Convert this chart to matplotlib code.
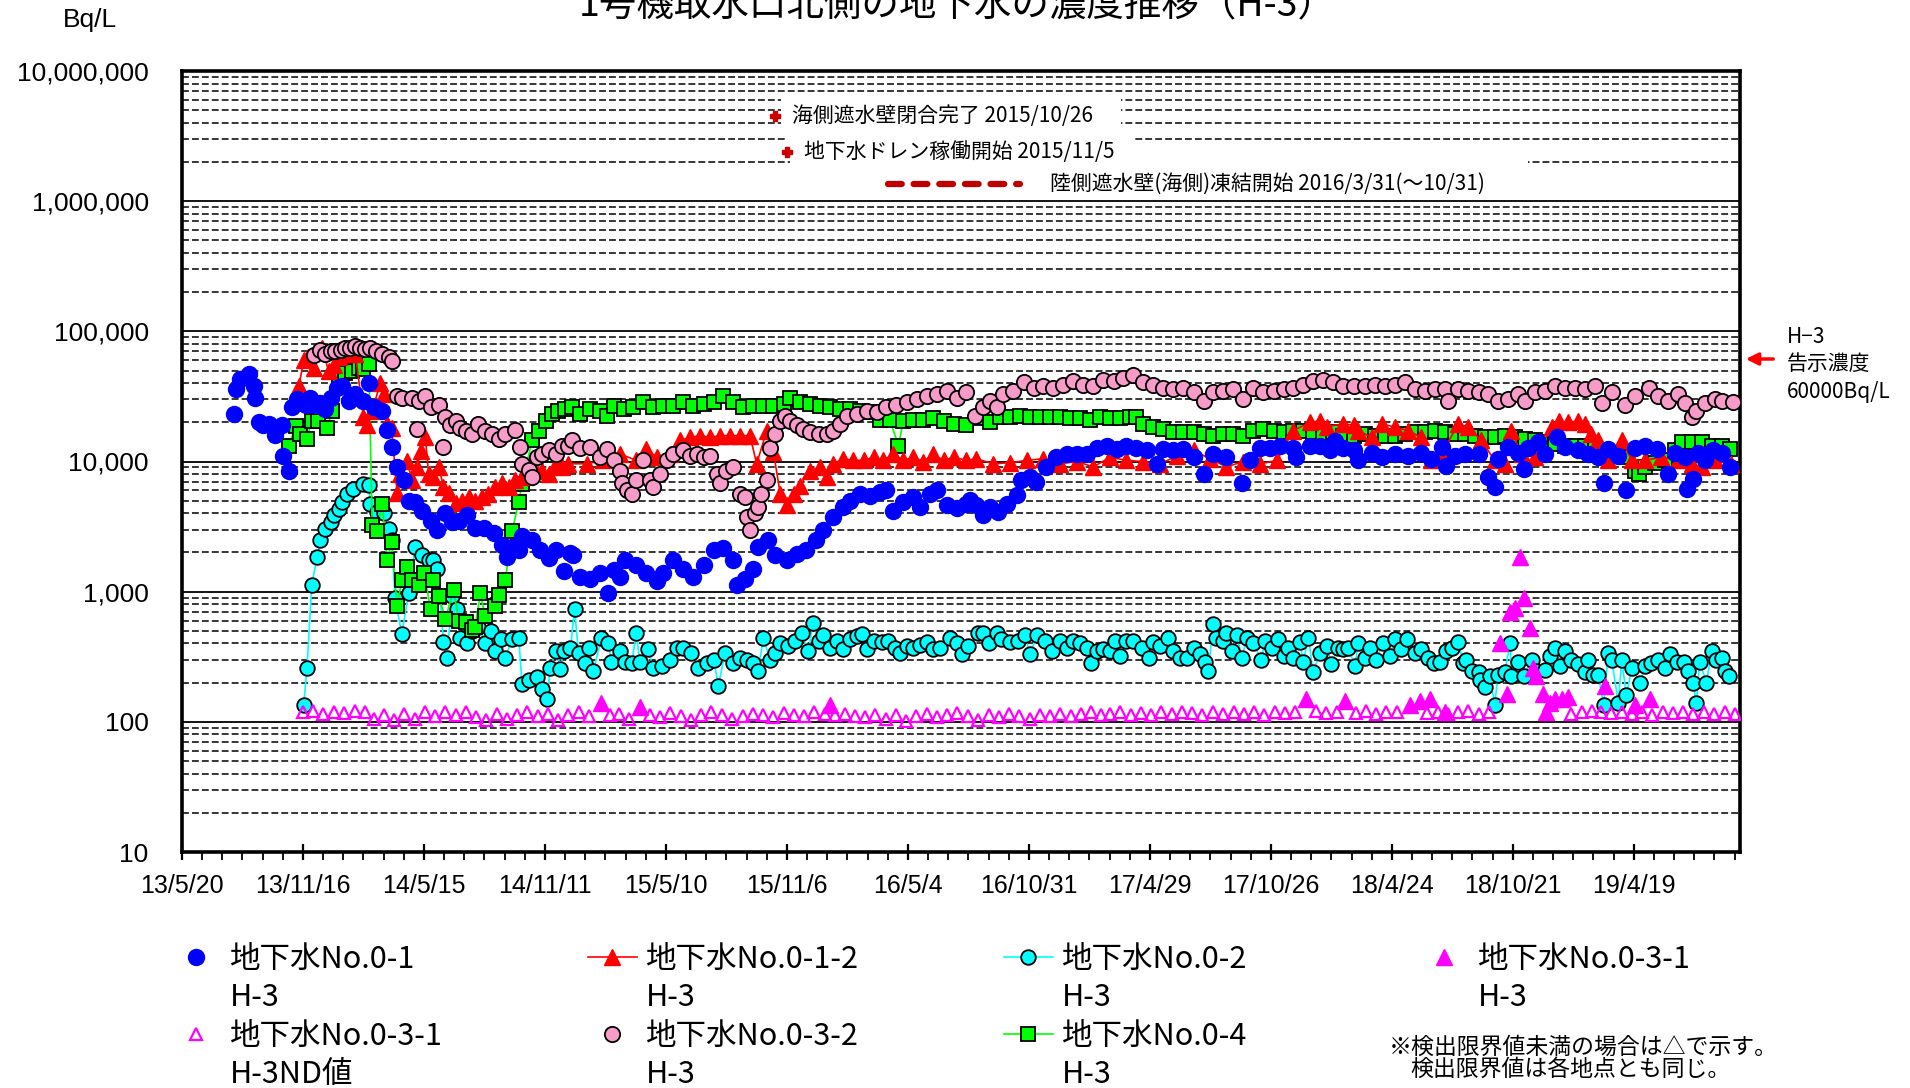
import matplotlib
matplotlib.use("Agg")
import matplotlib.pyplot as plt
import matplotlib.dates as mdates
from matplotlib.lines import Line2D
from matplotlib.patches import Rectangle
from matplotlib.ticker import FixedLocator, FuncFormatter, LogLocator, NullFormatter
from matplotlib import font_manager
import numpy as np

plt.rcParams["font.family"] = ["Noto Sans CJK JP", "DejaVu Sans"]

# ---- data (date, Bq/L) ----
no01 = [
    ("2013-08-05", 23000), ("2013-08-08", 36000), ("2013-08-15", 43000), ("2013-08-27", 47000),
    ("2013-09-04", 38000), ("2013-09-06", 31000), ("2013-09-11", 20000), ("2013-09-18", 19000),
    ("2013-09-26", 19500), ("2013-10-06", 16000), ("2013-10-16", 19000), ("2013-10-17", 11000),
    ("2013-10-26", 8500), ("2013-10-31", 26000), ("2013-11-07", 30000), ("2013-11-14", 28000),
    ("2013-11-20", 27000), ("2013-11-27", 31000), ("2013-12-04", 27000), ("2013-12-11", 28000),
    ("2013-12-19", 25500), ("2013-12-27", 31000), ("2014-01-06", 37000), ("2014-01-13", 38000),
    ("2014-01-23", 29000), ("2014-02-02", 33000), ("2014-02-14", 29000), ("2014-02-22", 40000),
    ("2014-03-01", 26000), ("2014-03-14", 24500), ("2014-03-21", 17500), ("2014-03-28", 13000),
    ("2014-04-05", 9100), ("2014-04-15", 7200), ("2014-04-22", 5000), ("2014-05-02", 4900),
    ("2014-05-12", 4200), ("2014-05-25", 3500), ("2014-06-03", 3000), ("2014-06-16", 4000),
    ("2014-06-26", 3400), ("2014-07-06", 3500), ("2014-07-18", 3900), ("2014-07-30", 3100),
    ("2014-08-12", 3100), ("2014-08-27", 2800), ("2014-09-08", 2300), ("2014-09-16", 1850),
    ("2014-09-23", 2200), ("2014-10-03", 2100), ("2014-10-08", 2700), ("2014-10-23", 2500),
    ("2014-11-04", 2100), ("2014-11-17", 1800), ("2014-11-27", 2100), ("2014-12-09", 1450),
    ("2014-12-18", 1970), ("2014-12-23", 1900), ("2015-01-02", 1300), ("2015-01-17", 1250),
    ("2015-02-01", 1400), ("2015-02-13", 970), ("2015-02-21", 1470), ("2015-03-03", 1300),
    ("2015-03-10", 1750), ("2015-03-27", 1600), ("2015-04-11", 1400), ("2015-04-26", 1200),
    ("2015-05-06", 1400), ("2015-05-21", 1750), ("2015-06-05", 1500), ("2015-06-20", 1300),
    ("2015-07-05", 1600), ("2015-07-20", 2100), ("2015-08-03", 2150), ("2015-08-18", 1750),
    ("2015-08-23", 1120), ("2015-09-05", 1250), ("2015-09-17", 1500), ("2015-09-24", 2200),
    ("2015-10-09", 2500), ("2015-10-19", 1900), ("2015-11-06", 1750), ("2015-11-21", 1950),
    ("2015-12-05", 2100), ("2015-12-20", 2500), ("2015-12-30", 3000), ("2016-01-14", 3750),
    ("2016-01-29", 4500), ("2016-02-08", 5000), ("2016-02-23", 5650), ("2016-03-09", 5400),
    ("2016-03-24", 5800), ("2016-04-02", 6000), ("2016-04-12", 4200), ("2016-04-27", 4900),
    ("2016-05-12", 5300), ("2016-05-22", 4500), ("2016-06-06", 5600), ("2016-06-16", 6000),
    ("2016-07-01", 4600), ("2016-07-16", 4400), ("2016-07-30", 4750), ("2016-08-04", 5100),
    ("2016-08-14", 4600), ("2016-08-24", 3900), ("2016-09-03", 4500), ("2016-09-15", 4100),
    ("2016-09-28", 4700), ("2016-10-13", 5500), ("2016-10-20", 7200), ("2016-11-02", 7600),
    ("2016-11-11", 7000), ("2016-11-26", 9000), ("2016-12-11", 10800), ("2016-12-26", 11400),
    ("2017-01-10", 11400), ("2017-01-25", 11400), ("2017-02-09", 12700), ("2017-02-24", 13200),
    ("2017-03-11", 12500), ("2017-03-25", 13200), ("2017-04-09", 12700), ("2017-04-24", 12200),
    ("2017-05-09", 9600), ("2017-05-19", 12500), ("2017-06-03", 12200), ("2017-06-18", 12500),
    ("2017-07-03", 10800), ("2017-07-18", 8000), ("2017-08-01", 11400), ("2017-08-21", 10800),
    ("2017-09-13", 6800), ("2017-09-25", 10200), ("2017-10-10", 12700), ("2017-10-25", 12700),
    ("2017-11-09", 13200), ("2017-11-28", 12700), ("2017-12-03", 10800), ("2017-12-23", 13200),
    ("2018-01-07", 13200), ("2018-01-22", 12200), ("2018-01-29", 14400), ("2018-02-11", 12700),
    ("2018-02-26", 12200), ("2018-03-05", 10200), ("2018-03-25", 11700), ("2018-04-09", 10800),
    ("2018-04-29", 11400), ("2018-05-18", 11100), ("2018-06-07", 11700), ("2018-06-22", 10500),
    ("2018-07-07", 13000), ("2018-07-14", 9300), ("2018-07-27", 11100), ("2018-08-11", 11400),
    ("2018-08-31", 11400), ("2018-09-14", 7600), ("2018-09-24", 6400), ("2018-09-29", 10500),
    ("2018-10-14", 13000), ("2018-10-29", 11700), ("2018-11-06", 8800), ("2018-11-13", 12700),
    ("2018-11-28", 14000), ("2018-12-08", 11400), ("2018-12-25", 15300), ("2019-01-07", 13000),
    ("2019-01-26", 12200), ("2019-02-10", 11400), ("2019-02-25", 10800), ("2019-03-05", 6800),
    ("2019-03-12", 12500), ("2019-03-27", 11100), ("2019-04-08", 6000), ("2019-04-21", 12700),
    ("2019-05-06", 13200), ("2019-05-23", 12500), ("2019-06-09", 8000), ("2019-06-19", 11700),
    ("2019-07-04", 10800), ("2019-07-07", 6200), ("2019-07-16", 7400), ("2019-07-24", 11700),
    ("2019-08-03", 10200), ("2019-08-15", 12200), ("2019-08-28", 11700), ("2019-09-09", 9000),
]

no012 = [
    ("2013-11-10", 38000), ("2013-11-17", 60000), ("2013-11-24", 63000), ("2013-12-02", 52000),
    ("2013-12-14", 75000), ("2013-12-24", 50000), ("2014-01-01", 55000), ("2014-01-08", 63000),
    ("2014-01-23", 67000), ("2014-02-02", 67000), ("2014-02-14", 22000), ("2014-02-19", 19000),
    ("2014-02-27", 24500), ("2014-03-11", 40000), ("2014-03-16", 33000), ("2014-03-21", 19500),
    ("2014-03-28", 18000), ("2014-04-05", 5700), ("2014-04-10", 8000), ("2014-04-20", 10100),
    ("2014-04-27", 7200), ("2014-05-05", 9100), ("2014-05-10", 12000), ("2014-05-17", 15300),
    ("2014-05-22", 8000), ("2014-05-29", 7600), ("2014-06-06", 9100), ("2014-06-13", 6400),
    ("2014-06-21", 5700), ("2014-07-01", 4800), ("2014-07-11", 5000), ("2014-07-21", 5300),
    ("2014-07-30", 5000), ("2014-08-09", 5300), ("2014-08-19", 5600), ("2014-08-29", 6400),
    ("2014-09-08", 6800), ("2014-09-18", 6400), ("2014-09-28", 7200), ("2014-10-08", 7600),
    ("2014-10-18", 8000), ("2014-10-28", 8500), ("2014-11-07", 8500), ("2014-11-17", 8000),
    ("2014-11-27", 9600), ("2014-12-06", 9100), ("2014-12-16", 9600), ("2015-01-12", 9600),
    ("2015-02-06", 10200), ("2015-03-03", 11400), ("2015-03-27", 10200), ("2015-04-11", 12500),
    ("2015-04-26", 10800), ("2015-05-16", 11400), ("2015-05-31", 14500), ("2015-06-15", 15300),
    ("2015-06-30", 15800), ("2015-07-15", 15300), ("2015-07-29", 15800), ("2015-08-13", 15800),
    ("2015-08-28", 15800), ("2015-09-12", 15800), ("2015-09-22", 9600), ("2015-10-07", 17300),
    ("2015-10-17", 11800), ("2015-10-27", 5650), ("2015-11-06", 4600), ("2015-11-16", 5650),
    ("2015-11-25", 6500), ("2015-12-10", 8500), ("2015-12-25", 9100), ("2016-01-04", 7600),
    ("2016-01-14", 9600), ("2016-01-29", 10500), ("2016-02-13", 10200), ("2016-02-28", 10200),
    ("2016-03-14", 10800), ("2016-03-28", 10200), ("2016-04-12", 11400), ("2016-04-27", 10200),
    ("2016-05-12", 10800), ("2016-05-27", 10000), ("2016-06-11", 11400), ("2016-06-26", 10200),
    ("2016-07-11", 10800), ("2016-07-30", 10200), ("2016-08-14", 10500), ("2016-09-08", 9600),
    ("2016-10-03", 9800), ("2016-10-28", 10200), ("2016-11-21", 10500), ("2016-12-16", 9600),
    ("2017-01-10", 10000), ("2017-02-04", 9100), ("2017-03-01", 10800), ("2017-03-25", 10200),
    ("2017-04-19", 10000), ("2017-05-14", 9600), ("2017-06-08", 11000), ("2017-07-03", 12200),
    ("2017-07-27", 10500), ("2017-08-21", 9100), ("2017-09-15", 10000), ("2017-10-10", 9600),
    ("2017-11-04", 10200), ("2017-11-28", 17200), ("2017-12-23", 20000), ("2018-01-07", 20500),
    ("2018-01-17", 18500), ("2018-02-11", 19500), ("2018-02-26", 19000), ("2018-03-05", 17300),
    ("2018-03-25", 15300), ("2018-04-09", 19500), ("2018-04-29", 18300), ("2018-05-18", 17300),
    ("2018-06-07", 15300), ("2018-06-22", 10200), ("2018-07-07", 11400), ("2018-08-01", 19500),
    ("2018-08-16", 18300), ("2018-09-04", 14500), ("2018-09-24", 10200), ("2018-10-09", 9600),
    ("2018-10-19", 17300), ("2018-11-03", 11400), ("2018-11-23", 10800), ("2018-12-18", 18300),
    ("2018-12-28", 20500), ("2019-01-11", 20000), ("2019-01-26", 20500), ("2019-02-05", 19500),
    ("2019-02-15", 16300), ("2019-02-25", 14500), ("2019-03-12", 10200), ("2019-04-01", 14500),
    ("2019-04-16", 10200), ("2019-05-06", 10200), ("2019-05-30", 10800), ("2019-06-24", 10200),
    ("2019-07-14", 9600), ("2019-07-29", 9100), ("2019-08-18", 10200), ("2019-09-11", 9600),
]

no02 = [
    ("2013-11-17", 135), ("2013-11-22", 260), ("2013-11-29", 1130), ("2013-12-07", 1850),
    ("2013-12-12", 2500), ("2013-12-19", 3050), ("2013-12-27", 3450), ("2014-01-01", 3900),
    ("2014-01-08", 4350), ("2014-01-13", 4900), ("2014-01-21", 5650), ("2014-01-30", 6200),
    ("2014-02-14", 6750), ("2014-02-22", 6600), ("2014-02-24", 4700), ("2014-03-06", 4100),
    ("2014-03-16", 4000), ("2014-03-24", 3050), ("2014-03-28", 2500), ("2014-04-02", 890),
    ("2014-04-12", 470), ("2014-04-22", 970), ("2014-05-02", 2200), ("2014-05-12", 1900),
    ("2014-05-22", 1750), ("2014-05-29", 1750), ("2014-06-03", 1500), ("2014-06-08", 920),
    ("2014-06-13", 410), ("2014-06-18", 310), ("2014-06-26", 920), ("2014-07-03", 730),
    ("2014-07-08", 440), ("2014-07-18", 400), ("2014-07-26", 500), ("2014-08-04", 540),
    ("2014-08-14", 400), ("2014-08-22", 500), ("2014-08-29", 350), ("2014-09-06", 430),
    ("2014-09-13", 310), ("2014-09-23", 430), ("2014-10-03", 440), ("2014-10-08", 195),
    ("2014-10-18", 210), ("2014-10-30", 220), ("2014-11-07", 180), ("2014-11-14", 150),
    ("2014-11-19", 260), ("2014-11-27", 350), ("2014-12-04", 255), ("2014-12-09", 350),
    ("2014-12-19", 370), ("2014-12-25", 730), ("2014-12-31", 340), ("2015-01-10", 285),
    ("2015-01-15", 370), ("2015-01-22", 245), ("2015-02-03", 440), ("2015-02-13", 400),
    ("2015-02-18", 290), ("2015-03-03", 350), ("2015-03-10", 290), ("2015-03-20", 285),
    ("2015-03-27", 480), ("2015-04-01", 290), ("2015-04-14", 360), ("2015-04-21", 260),
    ("2015-05-04", 270), ("2015-05-16", 300), ("2015-05-26", 370), ("2015-06-05", 370),
    ("2015-06-17", 340), ("2015-06-27", 260), ("2015-07-10", 285), ("2015-07-20", 300),
    ("2015-07-27", 190), ("2015-08-06", 340), ("2015-08-18", 285), ("2015-08-28", 310),
    ("2015-09-07", 300), ("2015-09-17", 285), ("2015-09-24", 245), ("2015-10-02", 440),
    ("2015-10-12", 300), ("2015-10-19", 340), ("2015-10-27", 400), ("2015-11-08", 385),
    ("2015-11-18", 420), ("2015-11-28", 480), ("2015-12-08", 350), ("2015-12-15", 575),
    ("2015-12-23", 420), ("2015-12-30", 465), ("2016-01-09", 370), ("2016-01-19", 420),
    ("2016-01-29", 360), ("2016-02-08", 430), ("2016-02-18", 455), ("2016-02-25", 470),
    ("2016-03-04", 360), ("2016-03-14", 420), ("2016-03-26", 410), ("2016-04-05", 420),
    ("2016-04-15", 370), ("2016-04-22", 340), ("2016-05-02", 380), ("2016-05-12", 370),
    ("2016-05-22", 390), ("2016-06-01", 410), ("2016-06-11", 360), ("2016-06-21", 370),
    ("2016-07-06", 440), ("2016-07-16", 400), ("2016-07-23", 330), ("2016-08-02", 380),
    ("2016-08-17", 480), ("2016-08-24", 480), ("2016-09-01", 400), ("2016-09-13", 480),
    ("2016-09-20", 430), ("2016-10-03", 410), ("2016-10-15", 420), ("2016-10-25", 465),
    ("2016-11-02", 330), ("2016-11-12", 465), ("2016-11-24", 420), ("2016-12-04", 350),
    ("2016-12-16", 420), ("2016-12-26", 370), ("2017-01-05", 420), ("2017-01-15", 400),
    ("2017-01-25", 370), ("2017-02-01", 285), ("2017-02-09", 350), ("2017-02-19", 360),
    ("2017-03-01", 350), ("2017-03-08", 420), ("2017-03-16", 320), ("2017-03-25", 420),
    ("2017-04-04", 420), ("2017-04-17", 370), ("2017-04-27", 310), ("2017-05-04", 410),
    ("2017-05-14", 385), ("2017-05-26", 440), ("2017-06-03", 350), ("2017-06-13", 310),
    ("2017-06-23", 310), ("2017-07-03", 370), ("2017-07-13", 330), ("2017-07-20", 290),
    ("2017-07-25", 245), ("2017-08-01", 560), ("2017-08-06", 440), ("2017-08-16", 420),
    ("2017-08-21", 480), ("2017-08-29", 350), ("2017-09-05", 465), ("2017-09-13", 310),
    ("2017-09-20", 440), ("2017-09-30", 400), ("2017-10-12", 300), ("2017-10-17", 420),
    ("2017-10-27", 370), ("2017-11-06", 430), ("2017-11-14", 320), ("2017-11-21", 370),
    ("2017-11-28", 310), ("2017-12-08", 410), ("2017-12-13", 290), ("2017-12-21", 440),
    ("2017-12-28", 240), ("2018-01-07", 340), ("2018-01-17", 380), ("2018-01-24", 280),
    ("2018-02-03", 370), ("2018-02-11", 360), ("2018-02-18", 370), ("2018-02-28", 270),
    ("2018-03-05", 400), ("2018-03-15", 310), ("2018-03-22", 370), ("2018-04-01", 300),
    ("2018-04-11", 400), ("2018-04-21", 320), ("2018-04-29", 430), ("2018-05-08", 360),
    ("2018-05-16", 430), ("2018-05-28", 340), ("2018-06-07", 360), ("2018-06-17", 310),
    ("2018-06-25", 285), ("2018-07-04", 290), ("2018-07-14", 350), ("2018-07-22", 370),
    ("2018-08-01", 410), ("2018-08-08", 285), ("2018-08-13", 300), ("2018-08-21", 245),
    ("2018-08-31", 240), ("2018-09-02", 210), ("2018-09-09", 185), ("2018-09-17", 225),
    ("2018-09-24", 135), ("2018-09-29", 230), ("2018-10-09", 240), ("2018-10-17", 400),
    ("2018-10-19", 225), ("2018-10-29", 290), ("2018-11-06", 225), ("2018-11-18", 300),
    ("2018-11-25", 245), ("2018-12-08", 250), ("2018-12-15", 320), ("2018-12-23", 370),
    ("2018-12-30", 270), ("2019-01-07", 350), ("2019-01-16", 300), ("2019-01-26", 280),
    ("2019-02-05", 240), ("2019-02-10", 300), ("2019-02-18", 230), ("2019-02-25", 230),
    ("2019-03-05", 135), ("2019-03-12", 340), ("2019-03-17", 300), ("2019-03-27", 140),
    ("2019-04-01", 300), ("2019-04-08", 160), ("2019-04-16", 260), ("2019-04-28", 200),
    ("2019-05-06", 270), ("2019-05-15", 285), ("2019-05-25", 300), ("2019-06-04", 260),
    ("2019-06-12", 330), ("2019-06-22", 290), ("2019-07-02", 290), ("2019-07-09", 245),
    ("2019-07-16", 200), ("2019-07-21", 140), ("2019-07-26", 290), ("2019-08-05", 200),
    ("2019-08-13", 350), ("2019-08-20", 300), ("2019-08-28", 310), ("2019-09-02", 245),
    ("2019-09-07", 225),
]

# No.0-3-1: detected values (filled) and detection-limit values (open)
no031 = [
    ("2015-02-03", 140), ("2015-04-01", 130), ("2016-01-09", 135), ("2017-12-18", 150),
    ("2018-02-13", 145), ("2018-05-21", 135), ("2018-06-05", 145), ("2018-06-20", 150),
    ("2018-07-12", 120), ("2018-10-02", 400), ("2018-10-12", 165), ("2018-10-17", 700),
    ("2018-10-24", 750), ("2018-11-01", 1860), ("2018-11-06", 890), ("2018-11-15", 530),
    ("2018-11-20", 260), ("2018-11-25", 225), ("2018-12-05", 165), ("2018-12-10", 120),
    ("2018-12-15", 140), ("2018-12-23", 150), ("2019-01-02", 150), ("2019-01-11", 155),
    ("2019-03-07", 190), ("2019-04-21", 135), ("2019-05-13", 150),
]

no031_nd = [
    ("2013-11-16", 118), ("2013-12-01", 122), ("2013-12-16", 115), ("2014-01-01", 120),
    ("2014-01-16", 116), ("2014-02-01", 122), ("2014-02-16", 118), ("2014-03-01", 105),
    ("2014-03-16", 112), ("2014-04-01", 103), ("2014-04-16", 115), ("2014-05-01", 106),
    ("2014-05-16", 118), ("2014-06-01", 110), ("2014-06-16", 120), ("2014-07-01", 113),
    ("2014-07-16", 118), ("2014-08-01", 108), ("2014-08-16", 104), ("2014-09-01", 115),
    ("2014-09-16", 105), ("2014-10-01", 112), ("2014-10-16", 118), ("2014-11-01", 110),
    ("2014-11-16", 115), ("2014-12-01", 104), ("2014-12-16", 113), ("2015-01-01", 118),
    ("2015-01-16", 110), ("2015-02-16", 112), ("2015-03-01", 115), ("2015-03-16", 105),
    ("2015-04-16", 112), ("2015-05-01", 108), ("2015-05-16", 116), ("2015-06-01", 110),
    ("2015-06-16", 104), ("2015-07-01", 113), ("2015-07-16", 118), ("2015-08-01", 112),
    ("2015-08-16", 106), ("2015-09-01", 110), ("2015-09-16", 115), ("2015-10-01", 112),
    ("2015-10-16", 108), ("2015-11-01", 116), ("2015-11-16", 112), ("2015-12-01", 110),
    ("2015-12-16", 118), ("2016-01-01", 115), ("2016-01-16", 112), ("2016-02-01", 115),
    ("2016-02-16", 110), ("2016-03-01", 108), ("2016-03-16", 113), ("2016-04-01", 106),
    ("2016-04-16", 112), ("2016-05-01", 102), ("2016-05-16", 110), ("2016-06-01", 114),
    ("2016-06-16", 108), ("2016-07-01", 112), ("2016-07-16", 116), ("2016-08-01", 110),
    ("2016-08-16", 104), ("2016-09-01", 112), ("2016-09-16", 108), ("2016-10-01", 114),
    ("2016-10-16", 110), ("2016-11-01", 106), ("2016-11-16", 113), ("2016-12-01", 110),
    ("2016-12-16", 115), ("2017-01-01", 110), ("2017-01-16", 114), ("2017-02-01", 118),
    ("2017-02-16", 112), ("2017-03-01", 115), ("2017-03-16", 120), ("2017-04-01", 113),
    ("2017-04-16", 117), ("2017-05-01", 112), ("2017-05-16", 118), ("2017-06-01", 115),
    ("2017-06-16", 120), ("2017-07-01", 116), ("2017-07-16", 112), ("2017-08-01", 118),
    ("2017-08-16", 114), ("2017-09-01", 120), ("2017-09-16", 115), ("2017-10-01", 118),
    ("2017-10-16", 113), ("2017-11-01", 120), ("2017-11-16", 116), ("2017-12-01", 118),
    ("2018-01-01", 122), ("2018-01-16", 116), ("2018-02-01", 120), ("2018-03-01", 117),
    ("2018-03-16", 122), ("2018-04-01", 115), ("2018-04-16", 120), ("2018-05-01", 118),
    ("2018-06-16", 116), ("2018-07-01", 120), ("2018-07-16", 115), ("2018-08-01", 118),
    ("2018-08-16", 122), ("2018-09-01", 115), ("2018-09-16", 120), ("2019-01-16", 115),
    ("2019-02-01", 118), ("2019-02-16", 122), ("2019-03-01", 118), ("2019-03-16", 116),
    ("2019-04-01", 120), ("2019-04-16", 115), ("2019-05-01", 118), ("2019-05-16", 112),
    ("2019-06-01", 120), ("2019-06-16", 116), ("2019-07-01", 118), ("2019-07-16", 115),
    ("2019-08-01", 120), ("2019-08-16", 114), ("2019-09-01", 118), ("2019-09-16", 115),
]

no032 = [
    ("2013-12-02", 66000), ("2013-12-12", 72000), ("2013-12-19", 67000), ("2013-12-27", 70000),
    ("2014-01-03", 70000), ("2014-01-11", 72000), ("2014-01-18", 74000), ("2014-01-25", 75000),
    ("2014-02-02", 77000), ("2014-02-09", 75000), ("2014-02-17", 73000), ("2014-02-24", 75000),
    ("2014-03-04", 71000), ("2014-03-14", 67000), ("2014-03-24", 63000), ("2014-03-28", 59000),
    ("2014-04-05", 32000), ("2014-04-12", 31000), ("2014-04-27", 31000), ("2014-05-05", 17800),
    ("2014-05-07", 29000), ("2014-05-17", 32000), ("2014-05-25", 26000), ("2014-06-06", 27000),
    ("2014-06-13", 13000), ("2014-06-16", 22000), ("2014-06-23", 19000), ("2014-07-01", 20500),
    ("2014-07-08", 18000), ("2014-07-16", 17300), ("2014-07-26", 16300), ("2014-08-04", 19500),
    ("2014-08-14", 17300), ("2014-08-24", 16300), ("2014-09-03", 15000), ("2014-09-13", 16300),
    ("2014-09-28", 17500), ("2014-10-05", 13000), ("2014-10-08", 9600), ("2014-10-18", 8600),
    ("2014-10-23", 7600), ("2014-10-30", 10800), ("2014-11-07", 11400), ("2014-11-17", 12200),
    ("2014-11-27", 11400), ("2014-12-06", 13200), ("2014-12-16", 13200), ("2014-12-21", 14500),
    ("2015-01-02", 12700), ("2015-01-17", 13000), ("2015-02-01", 10800), ("2015-02-11", 12500),
    ("2015-02-21", 10200), ("2015-03-03", 8500), ("2015-03-05", 6800), ("2015-03-13", 6000),
    ("2015-03-20", 5650), ("2015-03-27", 7200), ("2015-04-06", 10200), ("2015-04-16", 7200),
    ("2015-04-21", 6400), ("2015-05-01", 8000), ("2015-05-11", 10200), ("2015-05-21", 11400),
    ("2015-06-05", 12200), ("2015-06-15", 11100), ("2015-06-25", 11400), ("2015-07-05", 10800),
    ("2015-07-15", 11100), ("2015-07-25", 8000), ("2015-07-29", 6800), ("2015-08-08", 8500),
    ("2015-08-18", 9100), ("2015-08-28", 5650), ("2015-09-05", 5300), ("2015-09-07", 3760),
    ("2015-09-12", 3000), ("2015-09-19", 4000), ("2015-09-24", 4500), ("2015-09-29", 5650),
    ("2015-10-07", 7200), ("2015-10-12", 12700), ("2015-10-19", 16200), ("2015-10-27", 20500),
    ("2015-11-03", 22500), ("2015-11-11", 20500), ("2015-11-21", 19000), ("2015-11-30", 17800),
    ("2015-12-10", 16800), ("2015-12-23", 16300), ("2016-01-04", 16300), ("2016-01-14", 17300),
    ("2016-01-24", 19500), ("2016-02-03", 22500), ("2016-02-18", 23300), ("2016-03-04", 24500),
    ("2016-03-19", 24000), ("2016-04-02", 26000), ("2016-04-17", 27000), ("2016-05-02", 28500),
    ("2016-05-17", 30000), ("2016-06-01", 31700), ("2016-06-16", 33000), ("2016-07-01", 35000),
    ("2016-07-16", 31000), ("2016-07-30", 34000), ("2016-08-12", 22500), ("2016-08-24", 26000),
    ("2016-09-03", 29000), ("2016-09-13", 26000), ("2016-09-23", 33000), ("2016-10-08", 35000),
    ("2016-10-23", 40500), ("2016-11-07", 37000), ("2016-11-21", 38000), ("2016-12-06", 37000),
    ("2016-12-21", 39000), ("2017-01-05", 41500), ("2017-01-20", 39000), ("2017-02-04", 38000),
    ("2017-02-19", 42500), ("2017-03-06", 41500), ("2017-03-20", 44000), ("2017-04-04", 46500),
    ("2017-04-19", 40500), ("2017-05-04", 39000), ("2017-05-19", 37000), ("2017-06-03", 36000),
    ("2017-06-18", 37000), ("2017-07-03", 34000), ("2017-07-18", 29000), ("2017-08-01", 34000),
    ("2017-08-16", 35000), ("2017-08-31", 36000), ("2017-09-15", 30000), ("2017-09-30", 37000),
    ("2017-10-15", 34000), ("2017-10-30", 35000), ("2017-11-14", 36000), ("2017-11-28", 37000),
    ("2017-12-13", 39000), ("2017-12-28", 41500), ("2018-01-12", 42500), ("2018-01-27", 40500),
    ("2018-02-11", 38000), ("2018-02-26", 38000), ("2018-03-15", 38000), ("2018-03-30", 39000),
    ("2018-04-14", 38000), ("2018-04-29", 39000), ("2018-05-13", 40500), ("2018-05-28", 36000),
    ("2018-06-12", 35000), ("2018-06-27", 36000), ("2018-07-12", 36000), ("2018-07-17", 29000),
    ("2018-08-01", 36000), ("2018-08-16", 35000), ("2018-08-31", 34000), ("2018-09-14", 33000),
    ("2018-09-29", 29000), ("2018-10-14", 30000), ("2018-10-29", 33000), ("2018-11-08", 29000),
    ("2018-11-23", 34000), ("2018-12-08", 35000), ("2018-12-23", 38000), ("2019-01-07", 37000),
    ("2019-01-21", 37000), ("2019-02-05", 36000), ("2019-02-20", 38000), ("2019-03-02", 28000),
    ("2019-03-17", 34000), ("2019-04-06", 27000), ("2019-04-21", 31700), ("2019-05-11", 37000),
    ("2019-05-25", 31700), ("2019-06-09", 29000), ("2019-06-24", 33000), ("2019-07-04", 28000),
    ("2019-07-14", 22000), ("2019-07-21", 24500), ("2019-08-03", 28000), ("2019-08-18", 30000),
    ("2019-08-28", 29000), ("2019-09-14", 28500),
]

no04 = [
    ("2013-10-26", 13200), ("2013-11-05", 18800), ("2013-11-12", 16200), ("2013-11-22", 15000),
    ("2013-11-29", 20500), ("2013-12-09", 20500), ("2013-12-22", 18000), ("2013-12-29", 24500),
    ("2014-01-08", 46500), ("2014-01-18", 48000), ("2014-01-28", 50000), ("2014-02-07", 52500),
    ("2014-02-14", 51000), ("2014-02-22", 56000), ("2014-02-27", 3250), ("2014-03-06", 2900),
    ("2014-03-14", 4750), ("2014-03-21", 1750), ("2014-03-28", 2400), ("2014-04-05", 770),
    ("2014-04-12", 1230), ("2014-04-20", 1550), ("2014-04-27", 1230), ("2014-05-07", 1130),
    ("2014-05-15", 1400), ("2014-05-25", 730), ("2014-05-29", 1230), ("2014-06-06", 920),
    ("2014-06-16", 620), ("2014-06-28", 1030), ("2014-07-06", 600), ("2014-07-16", 580),
    ("2014-07-26", 510), ("2014-07-30", 540), ("2014-08-07", 970), ("2014-08-14", 650),
    ("2014-08-29", 770), ("2014-09-03", 950), ("2014-09-13", 1230), ("2014-09-23", 2900),
    ("2014-10-03", 4900), ("2014-10-08", 6750), ("2014-10-23", 14500), ("2014-11-02", 17300),
    ("2014-11-12", 20500), ("2014-11-22", 23000), ("2014-12-01", 24500), ("2014-12-11", 25400),
    ("2014-12-21", 26000), ("2015-01-02", 23000), ("2015-01-17", 25400), ("2015-02-01", 24500),
    ("2015-02-11", 22500), ("2015-02-21", 26800), ("2015-03-08", 25400), ("2015-03-22", 26000),
    ("2015-04-06", 28500), ("2015-04-21", 26000), ("2015-05-06", 26800), ("2015-05-21", 26800),
    ("2015-06-05", 28500), ("2015-06-20", 26800), ("2015-07-05", 27500), ("2015-07-20", 28500),
    ("2015-08-03", 31700), ("2015-08-18", 28500), ("2015-09-02", 26000), ("2015-09-17", 26800),
    ("2015-10-02", 26800), ("2015-10-17", 26800), ("2015-11-01", 27500), ("2015-11-11", 31000),
    ("2015-11-25", 28500), ("2015-12-10", 27500), ("2015-12-25", 26800), ("2016-01-09", 26000),
    ("2016-01-24", 25400), ("2016-02-08", 25400), ("2016-02-23", 24500), ("2016-03-09", 24000),
    ("2016-03-24", 21000), ("2016-04-07", 21000), ("2016-04-20", 13200), ("2016-04-27", 20500),
    ("2016-05-12", 21000), ("2016-05-27", 21000), ("2016-06-11", 21500), ("2016-06-26", 20500),
    ("2016-07-11", 19500), ("2016-07-30", 19000), ("2016-08-19", 21500), ("2016-09-03", 20000),
    ("2016-09-18", 22000), ("2016-10-03", 22000), ("2016-10-18", 22500), ("2016-11-02", 22000),
    ("2016-11-17", 22000), ("2016-12-01", 22000), ("2016-12-16", 22000), ("2016-12-31", 21500),
    ("2017-01-15", 21500), ("2017-01-30", 21000), ("2017-02-14", 22000), ("2017-03-01", 21500),
    ("2017-03-16", 21500), ("2017-03-30", 22000), ("2017-04-09", 22000), ("2017-04-19", 19500),
    ("2017-05-04", 18500), ("2017-05-19", 17800), ("2017-06-03", 16800), ("2017-06-18", 16800),
    ("2017-07-03", 16800), ("2017-07-18", 16300), ("2017-08-01", 15800), ("2017-08-16", 16300),
    ("2017-08-31", 16300), ("2017-09-15", 15800), ("2017-09-30", 17300), ("2017-10-15", 17800),
    ("2017-10-30", 17300), ("2017-11-14", 16800), ("2017-11-28", 17300), ("2017-12-13", 17300),
    ("2017-12-28", 16800), ("2018-01-12", 16300), ("2018-01-27", 16800), ("2018-02-11", 15800),
    ("2018-02-26", 15800), ("2018-03-15", 16300), ("2018-03-30", 15800), ("2018-04-14", 15800),
    ("2018-04-29", 15800), ("2018-05-13", 16300), ("2018-05-28", 16800), ("2018-06-12", 16800),
    ("2018-06-27", 17300), ("2018-07-12", 16800), ("2018-07-27", 16300), ("2018-08-11", 16300),
    ("2018-08-26", 15800), ("2018-09-09", 15300), ("2018-09-24", 15300), ("2018-10-09", 15800),
    ("2018-10-24", 15300), ("2018-11-08", 14900), ("2018-11-23", 14500), ("2018-12-08", 14000),
    ("2018-12-23", 13600), ("2019-01-07", 13200), ("2019-01-21", 13200), ("2019-02-05", 13200),
    ("2019-02-20", 12500), ("2019-03-07", 12200), ("2019-03-22", 11400), ("2019-04-06", 10800),
    ("2019-04-21", 8500), ("2019-04-26", 8000), ("2019-05-06", 9100), ("2019-05-20", 9800),
    ("2019-06-04", 10200), ("2019-06-19", 12200), ("2019-06-29", 14000), ("2019-07-14", 14000),
    ("2019-07-29", 14000), ("2019-08-13", 13200), ("2019-08-28", 13200), ("2019-09-09", 12500),
]

tick_start = "2013-05-20"
x_end = "2019-09-24"
events = ["海側遮水壁閉合完了 2015/10/26",
          "地下水ドレン稼働開始 2015/11/5",
          "陸側遮水壁(海側)凍結開始 2016/3/31(～10/31)"]


def unpack(rows):
    d = np.array([np.datetime64(r[0]) for r in rows])
    v = np.array([r[1] for r in rows], dtype=float)
    return d, v


# ---- figure geometry (pixels of the 1910x1088 reference) ----
W, H = 1910, 1088
L, R, T, B = 182, 1740, 71, 852
fig = plt.figure(figsize=(W / 100, H / 100), dpi=100)
fig.patch.set_facecolor("white")
ax = fig.add_axes([L / W, 1 - B / H, (R - L) / W, (B - T) / H])


def afx(px):
    return (px - L) / (R - L)


def afy(py):
    return (B - py) / (B - T)


names = {f.name for f in font_manager.fontManager.ttflist}
xfont = "Liberation Sans Narrow" if "Liberation Sans Narrow" in names else "Liberation Sans"
xsize = 20 if xfont == "Liberation Sans Narrow" else 18

# ---- series ----
d, v = unpack(no02)
h_02, = ax.plot(d, v, color="#00FFFF", lw=1.2, marker="o", ms=10.5, mfc="#00FFFF",
                mec="black", mew=1.3, zorder=3)
d, v = unpack(no04)
h_04, = ax.plot(d, v, color="#00FF00", lw=1.2, marker="s", ms=10, mfc="#00FF00",
                mec="black", mew=1.3, zorder=4)
d, v = unpack(no012)
h_012, = ax.plot(d, v, color="#FF0000", lw=1.2, marker="^", ms=11.5, mfc="#FF0000",
                 mec="#FF0000", zorder=5)
d, v = unpack(no032)
h_032, = ax.plot(d, v, ls="none", marker="o", ms=11, mfc="#F79BC8", mec="black",
                 mew=1.3, zorder=6)
d, v = unpack(no031_nd)
h_nd, = ax.plot(d, v, ls="none", marker="^", ms=8.5, mfc="none", mec="#FF00FF",
                mew=1.6, zorder=6.5)
d, v = unpack(no031)
h_031, = ax.plot(d, v, ls="none", marker="^", ms=12, mfc="#FF00FF", mec="#FF00FF",
                 zorder=7)
d, v = unpack(no01)
h_01, = ax.plot(d, v, ls="none", marker="o", ms=11.5, mfc="#0000FF", mec="#0000FF",
                zorder=8)

# ---- axes ----
ax.set_yscale("log")
ax.set_ylim(10, 1e7)
ax.set_xlim(np.datetime64(tick_start), np.datetime64(x_end))

ax.yaxis.set_major_locator(LogLocator(base=10, numticks=10))
ax.yaxis.set_minor_locator(LogLocator(base=10, subs=np.arange(2, 10), numticks=20))
ax.yaxis.set_major_formatter(FuncFormatter(lambda y, p: f"{y:,.0f}"))
ax.yaxis.set_minor_formatter(NullFormatter())
ax.tick_params(axis="y", which="both", length=0, pad=24, labelsize=19)
for lab in ax.get_yticklabels():
    lab.set_family("Liberation Sans")
ax.grid(which="major", axis="y", color="black", lw=1.3, ls="-")
ax.grid(which="minor", axis="y", color="black", lw=1.1, ls=(0, (4.5, 2)))

t0 = np.datetime64(tick_start)
majors = [mdates.date2num(t0 + np.timedelta64(180 * k, "D")) for k in range(13)]
minors = [mdates.date2num(t0 + np.timedelta64(30 * k, "D")) for k in range(78)]
ax.xaxis.set_major_locator(FixedLocator(majors))
ax.xaxis.set_minor_locator(FixedLocator(minors))


def fmt_date(x, pos):
    dt = mdates.num2date(x)
    return f"{dt.year % 100}/{dt.month}/{dt.day}"


ax.xaxis.set_major_formatter(FuncFormatter(fmt_date))
ax.tick_params(axis="x", which="major", direction="inout", length=11, width=1.6,
               pad=10, labelsize=xsize)
ax.tick_params(axis="x", which="minor", direction="out", length=5.5, width=1.3)
for lab in ax.get_xticklabels():
    lab.set_family(xfont)
for s in ax.spines.values():
    s.set_linewidth(2.6)

# ---- event notes inside the plot (white boxes hide the grid) ----
for x0, x1, y0, y1 in [(781, 1121, 95, 130), (787, 1133, 130, 150), (790, 1528, 150, 195)]:
    ax.add_patch(Rectangle((afx(x0), afy(y1)), afx(x1) - afx(x0), afy(y0) - afy(y1),
                           transform=ax.transAxes, facecolor="white", edgecolor="none",
                           zorder=2))
ax.plot([afx(775)], [afy(116)], transform=ax.transAxes, marker="P", ms=7,
        color="#CC0000", zorder=10)
ax.plot([afx(787)], [afy(152)], transform=ax.transAxes, marker="P", ms=7,
        color="#CC0000", zorder=10)
ax.add_line(Line2D([afx(888), afx(1020)], [afy(184), afy(184)], transform=ax.transAxes,
                   color="#C00000", lw=4.5, dashes=(2.2, 1.9), dash_capstyle="round",
                   zorder=10))
ax.text(afx(792), afy(116), events[0], transform=ax.transAxes, fontsize=15,
        va="center", ha="left", zorder=11)
ax.text(afx(804), afy(152), events[1], transform=ax.transAxes, fontsize=15,
        va="center", ha="left", zorder=11)
ax.text(afx(1050), afy(184), events[2], transform=ax.transAxes, fontsize=15,
        va="center", ha="left", zorder=11)

# ---- notification level marker on the right ----
ax.annotate("", xy=(1743, H - 359), xytext=(1776, H - 359), xycoords="figure pixels",
            textcoords="figure pixels", annotation_clip=False,
            arrowprops=dict(arrowstyle="-|>", color="#FF0000", lw=2.5, mutation_scale=18))
for txt, py in [("H−3", 337), ("告示濃度", 364), ("60000Bq/L", 392)]:
    fig.text(1787 / W, 1 - py / H, txt, fontsize=15, ha="left", va="center")

# ---- titles (the reference shows the title clipped by the top edge) ----
fig.text(957 / W, 1 - 5 / H, "1号機取水口北側の地下水の濃度推移（H-3）", fontsize=27,
         ha="center", va="center")
fig.text(90 / W, 1 - 20 / H, "Bq/L", fontsize=19, ha="center", va="center",
         family="Liberation Sans")

# ---- legend: four columns, each entry two text lines ----
blank = Line2D([], [], ls="none")
columns = [
    ([h_01, blank, h_nd, blank], ["地下水No.0-1", "H-3", "地下水No.0-3-1", "H-3ND値"], 172),
    ([h_012, blank, h_032, blank], ["地下水No.0-1-2", "H-3", "地下水No.0-3-2", "H-3"], 588),
    ([h_02, blank, h_04, blank], ["地下水No.0-2", "H-3", "地下水No.0-4", "H-3"], 1004),
    ([h_031, blank], ["地下水No.0-3-1", "H-3"], 1420),
]
for handles, labels, px in columns:
    fig.legend(handles, labels, loc="upper left", bbox_to_anchor=(px / W, 1 - 944 / H),
               frameon=False, fontsize=22, handlelength=1.6, handletextpad=0.3,
               labelspacing=0.24, borderpad=0, borderaxespad=0)

fig.text(1389 / W, 1 - 1047 / H, "※検出限界値未満の場合は△で示す。", fontsize=16.5,
         ha="left", va="center")
fig.text(1410 / W, 1 - 1069 / H, "検出限界値は各地点とも同じ。", fontsize=16.5,
         ha="left", va="center")

fig.savefig("out.png", dpi=100, facecolor="white")
